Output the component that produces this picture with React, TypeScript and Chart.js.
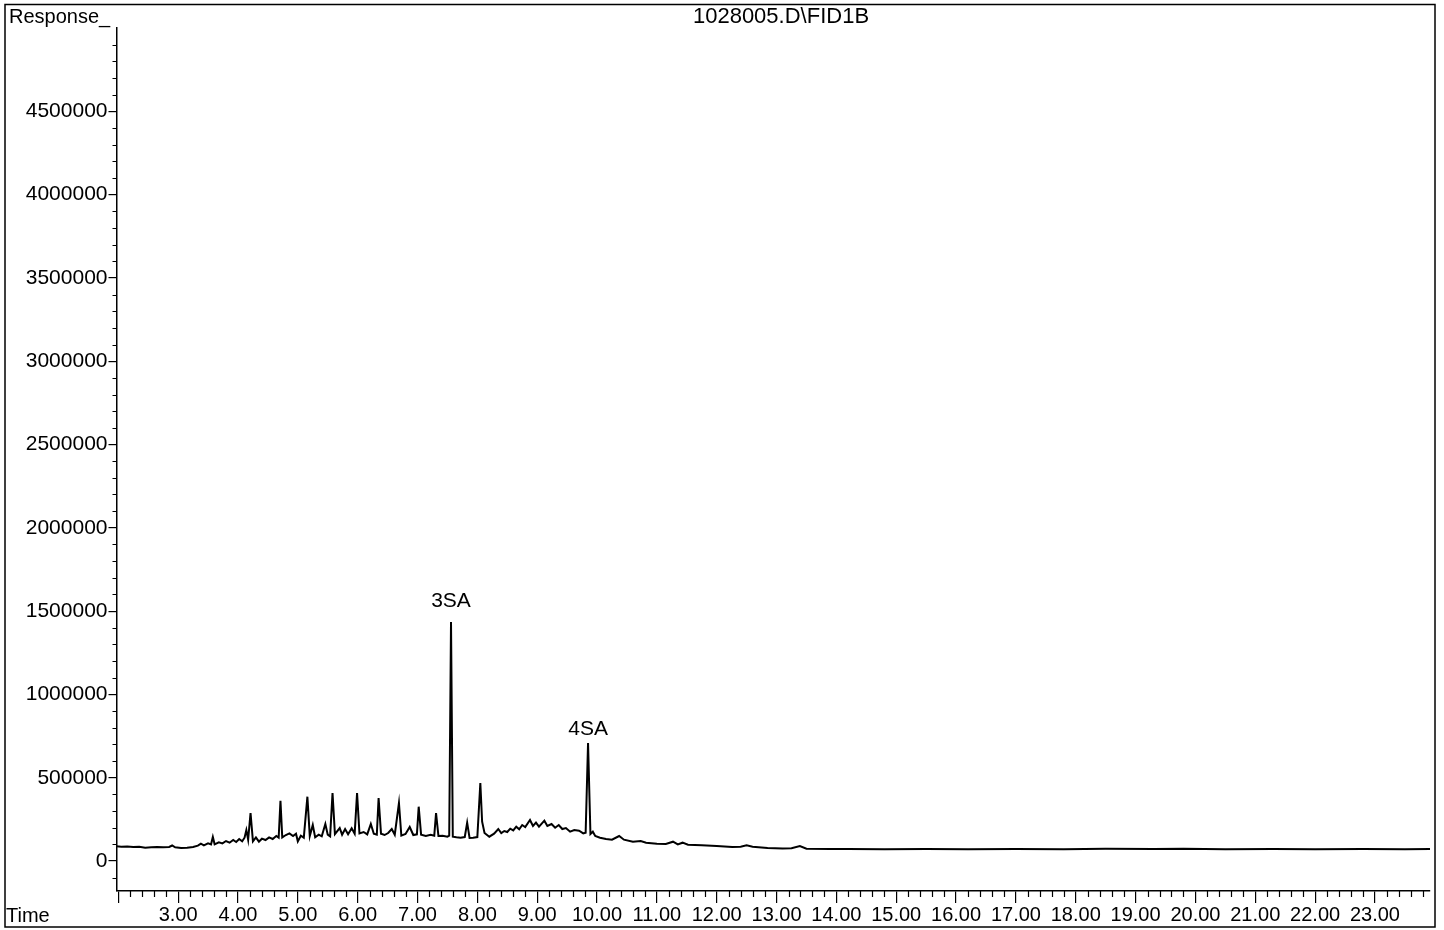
import React, { useEffect, useRef } from 'react';
import { Chart, registerables } from 'chart.js';

Chart.register(...registerables);

const chartTitle = '1028005.D\\FID1B';
const yAxisTitle = 'Response_';
const xAxisTitle = 'Time';

const times = [
  1.97, 2.05, 2.15, 2.25, 2.35, 2.45, 2.55, 2.65, 2.75, 2.85, 2.9, 2.95, 3.05, 3.15, 3.25, 3.33, 3.38, 3.43, 3.5, 3.55,
  3.58, 3.61, 3.68, 3.74, 3.8, 3.86, 3.92, 3.97, 4.02, 4.07, 4.11, 4.14, 4.17, 4.21, 4.25, 4.3, 4.35, 4.4, 4.46, 4.52,
  4.58, 4.64, 4.68, 4.71, 4.74, 4.8, 4.86, 4.92, 4.97, 5.0, 5.05, 5.1, 5.16, 5.2, 5.25, 5.29, 5.35, 5.4, 5.46, 5.5,
  5.54, 5.58, 5.62, 5.7, 5.74, 5.79, 5.84, 5.9, 5.95, 5.99, 6.03, 6.1, 6.16, 6.22, 6.27, 6.32, 6.35, 6.39, 6.45, 6.51,
  6.57, 6.62, 6.69, 6.73, 6.8, 6.87, 6.93, 6.99, 7.02, 7.06, 7.14, 7.22, 7.28, 7.31, 7.35, 7.42, 7.5, 7.53, 7.56, 7.59,
  7.65, 7.72, 7.79, 7.83, 7.87, 7.93, 8.0, 8.05, 8.08, 8.12, 8.2, 8.28, 8.35, 8.4, 8.45, 8.5, 8.55, 8.6, 8.65, 8.7,
  8.75, 8.8, 8.88, 8.93, 8.98, 9.03, 9.12, 9.17, 9.24, 9.3, 9.36, 9.42, 9.48, 9.55, 9.62, 9.7, 9.77, 9.81, 9.85, 9.89,
  9.93, 9.97, 10.05, 10.15, 10.25, 10.37, 10.45, 10.6, 10.73, 10.82, 11.0, 11.15, 11.27, 11.35, 11.43, 11.52, 11.75, 12.0, 12.26, 12.4,
  12.5, 12.6, 12.85, 13.1, 13.25, 13.39, 13.5, 13.9, 14.2, 14.8, 15.5, 16.2, 17.0, 17.8, 18.5, 19.3, 19.8, 20.5, 21.3, 22.0,
  22.8, 23.5, 23.92,
];

const responses = [
  88000, 86000, 87000, 84000, 85000, 80000, 82000, 84000, 82000, 84000, 93000, 82000, 78000, 80000, 84000, 92000, 104000, 94000, 106000, 100000,
  144000, 100000, 112000, 106000, 120000, 110000, 126000, 114000, 132000, 118000, 140000, 186000, 128000, 288000, 118000, 142000, 116000, 134000, 126000, 142000,
  132000, 150000, 140000, 362000, 142000, 156000, 166000, 150000, 164000, 118000, 152000, 140000, 386000, 150000, 216000, 142000, 158000, 148000, 222000, 158000,
  148000, 408000, 162000, 198000, 158000, 192000, 160000, 196000, 164000, 408000, 166000, 174000, 160000, 222000, 164000, 158000, 378000, 164000, 156000, 168000,
  192000, 158000, 348000, 152000, 162000, 204000, 156000, 160000, 326000, 158000, 150000, 158000, 152000, 288000, 150000, 152000, 146000, 152000, 1434000, 146000,
  142000, 140000, 144000, 230000, 138000, 140000, 144000, 468000, 236000, 168000, 146000, 164000, 192000, 168000, 180000, 174000, 194000, 184000, 206000, 190000,
  216000, 204000, 246000, 210000, 230000, 206000, 242000, 210000, 222000, 200000, 216000, 192000, 198000, 176000, 186000, 182000, 166000, 170000, 708000, 162000,
  176000, 150000, 140000, 132000, 128000, 150000, 128000, 116000, 120000, 110000, 104000, 102000, 116000, 100000, 110000, 98000, 95000, 90000, 84000, 86000,
  94000, 86000, 78000, 75000, 77000, 90000, 74000, 72000, 72000, 71000, 72000, 71000, 72000, 71000, 73000, 72000, 74000, 71000, 72000, 71000,
  72000, 71000, 72000,
];

const xTickValues = [2, 3, 4, 5, 6, 7, 8, 9, 10, 11, 12, 13, 14, 15, 16, 17, 18, 19, 20, 21, 22, 23];
const yTickValues = [0, 500000, 1000000, 1500000, 2000000, 2500000, 3000000, 3500000, 4000000, 4500000];

const peakLabels = ['3SA', '4SA'];
const peakLabelTimes = [7.56, 9.85];
const peakLabelResponses = [1524000, 756000];

const FONT = "'Liberation Sans', Arial, Helvetica, sans-serif";

const decorPlugin = {
  id: 'decor',
  afterDraw(chart: any) {
    const ctx = chart.ctx;
    const xs = chart.scales.x;
    const ys = chart.scales.y;
    const { bottom, left } = chart.chartArea;
    ctx.save();
    ctx.strokeStyle = '#000';
    ctx.lineWidth = 1.2;
    ctx.beginPath();
    for (let i = 11; i <= 119; i++) {
      if (i % 5 === 0) continue;
      const px = Math.round(xs.getPixelForValue(i / 5)) + 0.5;
      ctx.moveTo(px, bottom);
      ctx.lineTo(px, bottom + 6);
    }
    for (let i = -1; i <= 49; i++) {
      if (i >= 0 && i % 5 === 0) continue;
      const py = Math.round(ys.getPixelForValue(i * 100000)) + 0.5;
      ctx.moveTo(left, py);
      ctx.lineTo(left - 4, py);
    }
    ctx.stroke();

    // outer frame
    ctx.lineWidth = 1.5;
    ctx.strokeRect(5, 4.5, 1430, 922.5);

    ctx.fillStyle = '#000';
    ctx.textBaseline = 'alphabetic';
    ctx.font = `20px ${FONT}`;
    ctx.textAlign = 'left';
    ctx.fillText(yAxisTitle, 9, 23);
    ctx.fillText(xAxisTitle, 6, 922);
    ctx.font = `22px ${FONT}`;
    ctx.textAlign = 'center';
    ctx.fillText(chartTitle, 781, 23);
    ctx.font = `21px ${FONT}`;
    for (let i = 0; i < peakLabels.length; i++) {
      ctx.fillText(peakLabels[i], xs.getPixelForValue(peakLabelTimes[i]), ys.getPixelForValue(peakLabelResponses[i]));
    }
    ctx.restore();
  },
};

export default function App() {
  const ref = useRef<HTMLCanvasElement | null>(null);
  useEffect(() => {
    if (!ref.current) return;
    const chart = new Chart(ref.current, {
      type: 'line',
      data: {
        datasets: [
          {
            data: times.map((t, i) => ({ x: t, y: responses[i] })),
            borderColor: '#000',
            borderWidth: 2,
            pointRadius: 0,
            tension: 0,
            fill: false,
          },
        ],
      },
      options: {
        responsive: false,
        animation: false,
        layout: { padding: { left: 0, top: 28, right: 14, bottom: 0 } },
        plugins: { legend: { display: false }, tooltip: { enabled: false }, title: { display: false } },
        scales: {
          x: {
            type: 'linear',
            min: 1.97,
            max: 23.92,
            afterBuildTicks: (s: any) => {
              s.ticks = xTickValues.map((v) => ({ value: v }));
            },
            afterFit: (s: any) => {
              s.height = 39;
            },
            ticks: {
              autoSkip: false,
              maxRotation: 0,
              padding: 0,
              color: '#000',
              font: { family: FONT, size: 20 },
              callback: (v: any) => (Number(v) < 3 ? '' : Number(v).toFixed(2)),
            },
            grid: { display: true, drawOnChartArea: false, drawTicks: true, tickLength: 12, color: '#000', lineWidth: 1.2 },
            border: { display: true, color: '#000', width: 1.5 },
          },
          y: {
            type: 'linear',
            min: -180000,
            max: 5000000,
            afterBuildTicks: (s: any) => {
              s.ticks = yTickValues.map((v) => ({ value: v }));
            },
            afterFit: (s: any) => {
              s.width = 116.5;
            },
            ticks: {
              autoSkip: false,
              padding: 1,
              color: '#000',
              font: { family: FONT, size: 21 },
              callback: (v: any) => String(v),
            },
            grid: { display: true, drawOnChartArea: false, drawTicks: true, tickLength: 8, color: '#000', lineWidth: 1.2 },
            border: { display: true, color: '#000', width: 1.5 },
          },
        },
      },
      plugins: [decorPlugin],
    });
    return () => chart.destroy();
  }, []);
  return (
    <div style={{ position: 'absolute', left: 0, top: 0, width: 1444, height: 930, background: '#fff' }}>
      <canvas ref={ref} width={1444} height={930} style={{ display: 'block' }} />
    </div>
  );
}
